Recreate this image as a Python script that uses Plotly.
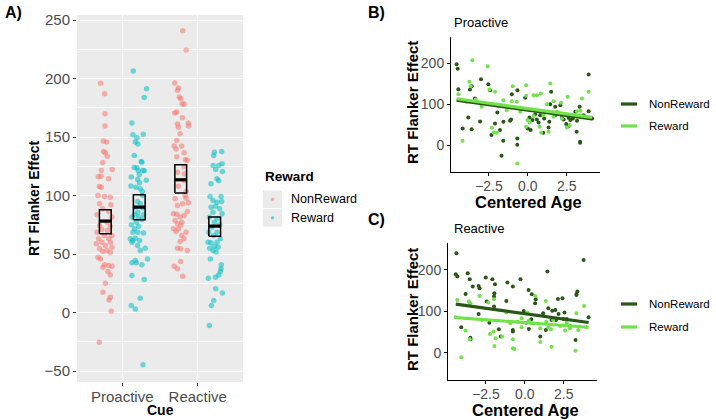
import plotly.graph_objects as go

# ---------------- Panel A data (RT flanker effect by cue & reward) ----------------
cues = ["Proactive", "Reactive"]
groups = ["NonReward", "Reward"]

pn_vals = [195.9, 187.0, 169.9, 159.4, 146.6, 145.7, 137.7, 136.5, 133.7, 128.3, 122.3, 121.4, 116.1, 116.6,
           114.3, 107.8, 107.2, 100.0, 99.2, 98.6, 93.0, 92.1, 88.7, 86.4, 83.6, 81.6, 77.3, 74.4, 73.8, 71.0,
           70.1, 68.7, 65.9, 65.9, 63.0, 63.0, 60.2, 60.2, 58.8, 57.3, 55.9, 54.5, 53.1, 52.2, 51.3, 47.3, 45.9,
           40.8, 40.2, 39.6, 38.8, 35.1, 32.2, 25.1, 17.4, 13.1, 10.8, 1.2, -25.3]
pn_jit = [-0.062, -0.009, -0.004, -0.004, -0.026, 0.018, -0.022, 0.0, 0.026, -0.035, 0.093, -0.053, -0.093, -0.057,
          0.044, -0.079, -0.053, -0.097, -0.009, 0.066, -0.075, 0.075, -0.035, 0.044, -0.110, 0.088, 0.022, -0.075,
          0.066, -0.044, 0.031, -0.110, -0.013, 0.088, -0.088, 0.044, -0.044, 0.066, -0.119, 0.0, 0.088, -0.075,
          0.022, -0.031, 0.066, -0.097, -0.066, -0.009, 0.044, 0.088, -0.031, 0.035, 0.066, 0.0, -0.031, 0.066,
          0.049, 0.079, -0.079]

pr_vals = [206.4, 191.3, 183.9, 162.0, 152.0, 152.5, 149.4, 145.7, 144.0, 134.3, 129.1, 128.5, 124.0, 123.7,
           121.4, 121.2, 121.2, 117.8, 115.8, 113.8, 113.0, 110.9, 108.1, 107.2, 105.9, 103.5, 100.1, 94.9, 93.0,
           90.1, 89.3, 85.8, 83.6, 83.6, 81.6, 81.6, 79.6, 77.3, 75.0, 73.8, 71.6, 68.7, 68.7, 68.1, 63.0, 63.6,
           61.6, 60.2, 61.6, 57.3, 55.0, 53.1, 44.5, 42.5, 42.5, 40.8, 45.9, 31.7, 28.2, 12.3, 6.0, 3.1, -44.5]
pr_jit = [-0.079, 0.097, 0.066, -0.097, -0.084, 0.053, -0.031, -0.053, -0.018, -0.066, 0.026, 0.035, -0.066,
          -0.031, 0.049, -0.013, 0.066, 0.0, -0.106, -0.022, 0.093, 0.004, -0.110, -0.044, 0.013, 0.040, 0.044,
          -0.022, 0.013, -0.053, 0.049, -0.018, -0.062, 0.057, -0.009, -0.097, 0.035, -0.040, -0.106, -0.009,
          -0.062, -0.084, -0.018, 0.057, -0.119, -0.053, -0.084, -0.097, 0.004, -0.022, 0.079, 0.013, -0.053,
          -0.097, -0.040, 0.035, 0.110, -0.097, 0.066, 0.013, -0.106, -0.053, 0.049]

rn_vals = [240.9, 224.4, 196.2, 191.9, 190.0, 184.2, 182.8, 178.2, 178.2, 171.4, 170.5, 166.5, 161.1, 162.0,
           159.4, 158.3, 152.8, 147.1, 142.3, 142.3, 139.9, 136.6, 133.2, 130.6, 130.1, 124.6, 118.6, 120.0,
           112.9, 108.0, 103.5, 100.1, 97.2, 97.8, 93.0, 93.9, 91.6, 86.4, 84.4, 84.1, 81.6, 82.9, 78.7, 77.3,
           75.9, 71.6, 71.6, 74.7, 69.3, 68.7, 65.9, 63.0, 60.8, 55.0, 54.5, 53.1, 39.7, 43.6, 37.4, 31.1]
rn_jit = [0.026, 0.071, -0.079, -0.031, -0.044, -0.018, 0.0, 0.018, 0.044, -0.053, -0.079, 0.022, -0.044, 0.102,
          0.102, -0.031, -0.009, -0.053, -0.088, 0.013, -0.062, 0.044, -0.053, 0.062, 0.088, 0.044, 0.049, -0.044,
          0.049, -0.031, 0.071, 0.057, -0.075, 0.071, 0.026, 0.102, -0.044, 0.088, -0.097, -0.053, -0.009, 0.044,
          -0.075, 0.013, -0.044, -0.097, -0.031, 0.0, -0.062, 0.071, 0.013, 0.044, -0.009, -0.044, 0.0, 0.088,
          -0.088, 0.0, -0.044, 0.026]

rr_vals = [134.3, 137.7, 137.1, 125.7, 125.7, 122.3, 127.3, 120.6, 110.1, 114.3, 112.6, 99.2, 99.2, 95.8, 94.4,
           95.0, 90.1, 90.9, 88.7, 85.8, 84.4, 81.6, 80.1, 77.3, 75.0, 73.0, 68.7, 68.7, 65.9, 60.2, 59.6, 60.2,
           63.0, 56.7, 55.0, 55.9, 53.1, 51.7, 45.9, 40.8, 37.4, 35.1, 32.2, 30.2, 29.4, 20.3, 16.8, 10.3, 6.0,
           -11.1]
rr_jit = [-0.013, 0.093, -0.004, -0.022, 0.053, 0.013, 0.097, 0.102, -0.049, 0.031, 0.053, -0.062, 0.084, -0.022,
          0.031, 0.093, -0.049, 0.009, 0.066, -0.022, 0.097, -0.071, 0.031, -0.004, 0.066, -0.035, -0.079, 0.031,
          -0.013, -0.088, -0.049, 0.031, 0.075, -0.004, -0.066, 0.044, -0.022, 0.018, -0.057, 0.088, 0.084, 0.075,
          0.053, 0.009, -0.084, 0.013, 0.102, -0.013, -0.044, -0.071]

# crossbar summaries: centre, lower, upper  (order: PN, PR, RN, RR)
box_mid = [78.2, 90.1, 113.5, 73.9]
box_lo = [67.3, 79.3, 102.1, 65.3]
box_hi = [87.8, 100.7, 126.3, 81.6]

# ---------------- Panels B / C data (centered age vs RT flanker effect) ----------------
b_nr_age = [-4.58, -4.51, -4.47, -3.83, -4.19, -3.61, -3.61, -3.72, -3.01, -3.40, -3.07, -2.54, -2.43, -1.96,
            -2.11, -1.57, -1.79, -1.14, -1.03, -0.67, -0.17, -1.08, 0.11, 0.30, 0.58, 0.79, 0.47, 0.18, 0.69,
            1.05, 1.38, 1.50, 1.44, 1.76, 1.76, 1.91, 2.09, 2.19, 2.30, 2.47, 2.62, 2.73, 2.62, 2.90, 3.05, 3.16,
            3.33, 3.59, 3.91, 3.91, 1.33, 0.00, 4.13, -2.34, -1.58, -0.68, -0.68, -1.69, 0.99, 3.14, 3.36, 3.36]
b_nr_rt = [198.0, 187.0, 137.0, 67.7, 40.8, 39.1, 144.4, 136.0, 161.5, 114.2, 57.9, 149.3, 134.6, 80.0,
           53.0, 57.1, 36.7, 59.5, 124.8, 134.6, 115.8, 62.8, 67.7, 61.2, 62.8, 73.4, 75.9, 36.7, 55.5,
           65.3, 57.1, 130.5, 100.3, 93.8, 73.4, 79.1, 97.9, 67.7, 62.8, 51.4, 66.9, 61.2, 46.5, 65.3, 81.6, 59.5,
           93.8, 73.4, 83.2, 173.0, 43.2, 40.8, 65.3, 24.5, 10.6, 16.3, 0.8, -26.1, 30.2, 32.6, 8.1, 5.7]
b_r_age = [-4.47, -3.57, -2.58, -3.76, -3.68, -2.47, -2.11, -1.57, -0.97, -1.03, -0.71, -0.11, -0.11, 0.37,
           0.58, 0.84, 1.44, 1.23, 1.66, 2.13, 2.56, 3.16, 3.38, 3.48, 3.91, -0.11, -0.02, 0.75, 0.86, 1.33,
           2.51, 2.69, -2.32, -2.21, 0.11, -2.97, -3.35, -3.94, -0.49, 0.37, -1.36, -1.89, 1.87, 1.66, 2.19,
           1.01, 2.84, -4.20, -2.00, -0.68]
b_r_rt = [124.8, 208.0, 193.4, 155.0, 144.4, 136.3, 130.5, 110.2, 144.4, 107.7, 106.1, 146.9, 120.7, 122.4,
          122.4, 126.5, 151.0, 100.3, 107.7, 103.6, 118.3, 83.2, 84.0, 114.2, 130.5, 44.9, 61.2, 44.9, 31.0, 32.6,
          43.2, 49.0, 42.4, 31.0, 55.5, 93.8, 111.8, 106.1, 81.6, 71.0, 85.7, 95.5, 81.6, 69.4, 65.3,
          73.4, 73.4, 10.6, 30.2, -44.9]

c_nr_age = [-4.40, -4.44, -4.34, -3.67, -3.54, -3.35, -3.81, -2.97, -2.91, -2.51, -2.09, -1.92, -1.96, -1.98,
            -2.45, -2.97, -4.09, -3.50, -3.50, -2.28, -1.98, -1.67, -1.54, -1.12, -0.77, -0.28, -1.19, -0.77,
            -0.77, 0.24, 0.45, 0.70, 0.66, -0.07, 0.41, 0.99, 1.18, 1.45, 1.51, 1.76, 1.96, 2.13, 2.42, 2.17,
            2.00, 2.48, 2.69, 2.55, 2.90, 3.32, 3.38, 3.32, 3.78, 4.10, 3.26, 1.35, 1.72, 0.09, 0.26]
c_nr_rt = [240.3, 189.5, 183.8, 191.9, 177.4, 159.7, 141.9, 161.3, 155.6, 181.4, 177.4, 165.3, 143.5, 135.5,
           123.4, 93.6, 61.3, 36.3, 32.3, 72.6, 111.3, 56.5, 38.8, 169.3, 159.7, 177.4, 125.0, 54.9,
           50.9, 151.6, 141.1, 129.0, 119.4, 100.8, 80.7, 38.8, 95.2, 196.0, 107.3, 101.6, 103.2, 129.8, 131.4, 93.6,
           79.0, 81.5, 81.5, 96.8, 64.6, 141.9, 147.6, 139.5, 224.1, 85.5, 30.7, 54.9, 79.0, 72.6, 57.3]
c_r_age = [-4.34, -4.44, -3.81, -3.60, -3.50, -3.54, -2.91, -2.76, -2.35, -1.98, -2.02, -1.46, -1.88, -2.24,
           -1.96, -0.77, -0.77, -1.19, -0.21, 0.17, 0.26, 0.45, 0.66, 0.99, 1.35, 1.37, 1.51, 1.68, 1.82, 2.69,
           2.59, 2.27, 3.32, 3.43, 3.81, 3.94, 1.72, -0.21, -0.94, -0.46, 2.90, -4.09, -0.67, 3.25, 0.99]
c_r_rt = [127.4, 85.5, 53.3, 123.4, 119.4, 32.3, 137.1, 79.0, 121.0, 129.0, 50.9, 38.8, 34.7, 45.2,
          16.2, 32.3, 10.5, 96.8, 83.1, 96.8, 77.5, 71.0, 137.1, 58.9, 125.0, 75.0, 61.3, 56.5, 79.0, 72.6,
          53.3, 64.6, 95.2, 54.9, 112.9, 61.3, 14.6, 61.3, 71.0, 75.0, 58.9, -11.1, 9.0, 4.8, 26.0]

# fitted linear trends: intercept, slope  (NonReward, Reward)
b_fit = [(86.0, -5.24), (89.5, -5.25)]
c_fit = [(94.2, -5.19), (72.7, -2.73)]

# ---------------- styling ----------------
W, H = 716, 420
col_nr_a, col_r_a = "#F8766D", "#00BFC4"
dark, light = "#2a5717", "#70e24a"
FONT = "Liberation Sans"

def px(x):
    return x / W

def py(y):
    return 1 - y / H

fig = go.Figure()

# ---- panel A points
def add_a(vals, jit, center, color):
    fig.add_trace(go.Scatter(
        x=[center + j for j in jit], y=vals, mode="markers", xaxis="x", yaxis="y",
        marker=dict(size=5.5, color=color, opacity=0.55, line=dict(width=0)),
        showlegend=False, hoverinfo="skip"))

dodge = 0.225
add_a(pn_vals, pn_jit, 1 - dodge, col_nr_a)
add_a(pr_vals, pr_jit, 1 + dodge, col_r_a)
add_a(rn_vals, rn_jit, 2 - dodge, col_nr_a)
add_a(rr_vals, rr_jit, 2 + dodge, col_r_a)

# ---- crossbars
centers = [1 - dodge, 1 + dodge, 2 - dodge, 2 + dodge]
hw = 0.078
for c, lo, hi, m in zip(centers, box_lo, box_hi, box_mid):
    fig.add_trace(go.Scatter(x=[c - hw, c + hw, c + hw, c - hw, c - hw], y=[lo, lo, hi, hi, lo],
                             mode="lines", line=dict(color="black", width=1.5), xaxis="x", yaxis="y",
                             showlegend=False, hoverinfo="skip"))
    fig.add_trace(go.Scatter(x=[c - hw, c + hw], y=[m, m], mode="lines",
                             line=dict(color="black", width=3.2), xaxis="x", yaxis="y",
                             showlegend=False, hoverinfo="skip"))

# ---- panels B, C
def add_scatter_panel(xa, ya, nr_age, nr_rt, r_age, r_rt, fits):
    fig.add_trace(go.Scatter(x=nr_age, y=nr_rt, mode="markers", xaxis=xa, yaxis=ya,
                             marker=dict(size=4, color=dark), showlegend=False, hoverinfo="skip"))
    fig.add_trace(go.Scatter(x=r_age, y=r_rt, mode="markers", xaxis=xa, yaxis=ya,
                             marker=dict(size=4, color=light), showlegend=False, hoverinfo="skip"))
    allx = nr_age + r_age
    lo, hi = min(allx), max(allx)
    for (b0, b1), col in zip(fits, [dark, light]):
        fig.add_trace(go.Scatter(x=[lo, hi], y=[b0 + b1 * lo, b0 + b1 * hi], mode="lines",
                                 line=dict(color=col, width=3.2), xaxis=xa, yaxis=ya,
                                 showlegend=False, hoverinfo="skip"))

add_scatter_panel("x2", "y2", b_nr_age, b_nr_rt, b_r_age, b_r_rt, b_fit)
add_scatter_panel("x3", "y3", c_nr_age, c_nr_rt, c_r_age, c_r_rt, c_fit)

tickfont_a = dict(family=FONT, size=15, color="#4d4d4d")
tickfont_b = dict(family=FONT, size=14, color="#4d4d4d")

classic = dict(showline=True, linecolor="black", linewidth=1, ticks="outside", ticklen=3,
               tickcolor="black", tickwidth=1, showgrid=False, zeroline=False, tickfont=tickfont_b,
               automargin=False)

fig.update_layout(
    width=W, height=H, margin=dict(l=0, r=0, t=0, b=0, autoexpand=False),
    paper_bgcolor="white", plot_bgcolor="rgba(0,0,0,0)",
    showlegend=False,
    xaxis=dict(domain=[px(77), px(243)], range=[0.4, 2.6], tickvals=[1, 2], ticktext=cues,
               showgrid=True, gridcolor="white", gridwidth=1.2, zeroline=False, showline=False,
               ticks="outside", ticklen=3, tickcolor="#333333", tickfont=tickfont_a, anchor="y",
               automargin=False, ticklabelstandoff=-2),
    yaxis=dict(domain=[py(382), py(15)], range=[-59.3, 254.3], tickvals=[-50, 0, 50, 100, 150, 200, 250],
               showgrid=True, gridcolor="white", gridwidth=1.2, zeroline=False, showline=False,
               ticks="outside", ticklen=3, tickcolor="#333333", tickfont=tickfont_a, anchor="x",
               automargin=False,
               minor=dict(tickvals=[-25, 25, 75, 125, 175, 225], showgrid=True, gridcolor="white",
                          gridwidth=0.6, ticks="")),
    xaxis2=dict(domain=[px(451), px(600)], range=[-4.94, 4.64], tickvals=[-2.5, 0, 2.5],
                ticktext=["\u22122.5", "0.0", "2.5"], anchor="y2", ticklabelstandoff=-2, **classic),
    yaxis2=dict(domain=[py(172), py(37)], range=[-66, 265], tickvals=[0, 100, 200], anchor="x2", **classic),
    xaxis3=dict(domain=[px(448), px(597)], range=[-4.94, 4.64], tickvals=[-2.5, 0, 2.5],
                ticktext=["\u22122.5", "0.0", "2.5"], anchor="y3", ticklabelstandoff=-2, **classic),
    yaxis3=dict(domain=[py(380), py(243)], range=[-66, 265], tickvals=[0, 100, 200], anchor="x3", **classic),
)

shapes = [dict(type="rect", xref="x domain", yref="y domain", x0=0, x1=1, y0=0, y1=1,
               fillcolor="#EBEBEB", line=dict(width=0), layer="below")]

annots = []

def txt(x, y, s, size, bold=False, xanchor="center", yanchor="middle", angle=0, color="black"):
    annots.append(dict(x=px(x), y=py(y), xref="paper", yref="paper", text=f"<b>{s}</b>" if bold else s,
                       showarrow=False, xanchor=xanchor, yanchor=yanchor, textangle=angle,
                       font=dict(family=FONT, size=size, color=color)))

# panel letters
txt(3, 12, "A)", 16, bold=True, xanchor="left")
txt(366, 12, "B)", 16, bold=True, xanchor="left")
txt(366, 219, "C)", 16, bold=True, xanchor="left")

# panel A titles
txt(34, 199, "RT Flanker Effect", 14, bold=True, angle=-90)
txt(160, 410, "Cue", 14, bold=True)

# panel A legend
txt(263, 176, "Reward", 13.5, bold=True, xanchor="left")
for i, (lab, col) in enumerate(zip(groups, [col_nr_a, col_r_a])):
    y0 = 190.5 + i * 18.6
    shapes.append(dict(type="rect", xref="paper", yref="paper", x0=px(263), x1=px(282),
                       y0=py(y0 + 17.6), y1=py(y0), fillcolor="#EBEBEB", line=dict(width=0)))
    shapes.append(dict(type="circle", xref="paper", yref="paper", x0=px(270.8), x1=px(274.2),
                       y0=py(y0 + 10.5), y1=py(y0 + 7.1), fillcolor=col, opacity=0.6, line=dict(width=0)))
    txt(289, y0 + 8.8, lab, 12.5, xanchor="left")

# panels B / C titles & legends
for top, title, lx, xt in [(0, "Proactive", 451, 202), (207, "Reactive", 448, 410)]:
    txt(452, 22 + top, title, 13, xanchor="left")
    txt(412, 103 + top, "RT Flanker Effect", 15, bold=True, angle=-90)
    txt(lx + 77, xt, "Centered Age", 16.5, bold=True)

legend_y = [(104, 126), (304, 327)]
for (y1, y2) in legend_y:
    for yy, lab, col in [(y1, "NonReward", dark), (y2, "Reward", light)]:
        shapes.append(dict(type="line", xref="paper", yref="paper", x0=px(621), x1=px(637),
                           y0=py(yy), y1=py(yy), line=dict(color=col, width=3.2)))
        txt(647, yy, lab, 11.5, xanchor="left")

fig.update_layout(shapes=shapes, annotations=annots)
fig.write_html("out.html", config={"displayModeBar": False},
               post_script="document.body.style.margin='0px';document.body.style.overflow='hidden';")
